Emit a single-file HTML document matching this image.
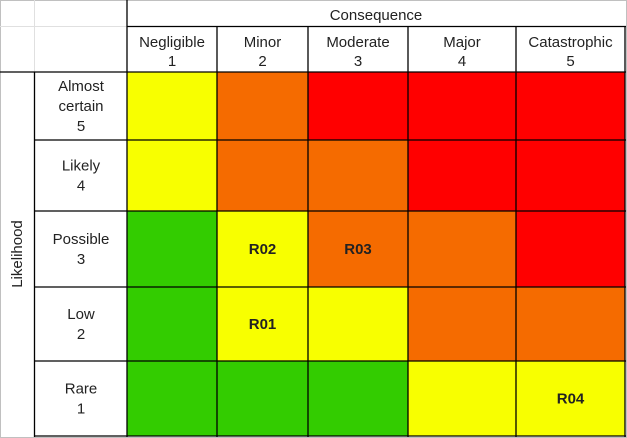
<!DOCTYPE html>
<html><head><meta charset="utf-8"><style>
html,body{margin:0;padding:0;background:#fff;}
svg{display:block;font-family:"Liberation Sans",Arial,sans-serif;}
</style></head><body>
<svg id="chart" width="627" height="438"></svg>
<script>
const consequences = ["Negligible","Minor","Moderate","Major","Catastrophic"];
const likelihoods = [["Almost","certain","5"],["Likely","4"],["Possible","3"],["Low","2"],["Rare","1"]];
// risk level per row (top=5 down to 1), per column (1..5): 0 green,1 yellow,2 orange,3 red
const levels = [
 [1,2,3,3,3],
 [1,2,2,3,3],
 [0,1,2,2,3],
 [0,1,1,2,2],
 [0,0,0,1,1]
];
const risks = ["R02","R03","R01","R04"];
const riskLikelihood = [3,3,2,1];
const riskConsequence = [2,3,2,5];

const colX = [127,217,308,408,516,625];
const rowY = [72,140,211,287,361,436];
const colors = ["#33cc00","#f8ff00","#f56b00","#ff0000"];
const NS="http://www.w3.org/2000/svg";
const svg=document.getElementById('chart');
function mk(tag,attrs,parent){const e=document.createElementNS(NS,tag);for(const k in attrs)e.setAttribute(k,attrs[k]);(parent||svg).appendChild(e);return e;}
function txt(x,y,s,opts){const t=mk('text',Object.assign({x:x,y:y,'text-anchor':'middle','font-size':15,fill:'#222'},opts||{}));t.textContent=s;return t;}

mk('rect',{x:0.5,y:0.5,width:626,height:437,fill:'none',stroke:'#c0c0c0'});
mk('line',{x1:34.5,y1:0,x2:34.5,y2:72,stroke:'#e0e0e0'});
mk('line',{x1:0,y1:26.5,x2:127,y2:26.5,stroke:'#e0e0e0'});

for(let r=0;r<5;r++){for(let c=0;c<5;c++){
 const cell=mk('rect',{x:colX[c],y:rowY[r],width:colX[c+1]-colX[c],height:rowY[r+1]-rowY[r],fill:colors[levels[r][c]]});
 
 
}}

const h=txt((127+625)/2,20,"Consequence");


consequences.forEach((n,i)=>{
 const cx=(colX[i]+colX[i+1])/2;
 const t=txt(cx,47,n);
 
 
 const t2=txt(cx,66,String(i+1));
 
 
});
likelihoods.forEach((lines,i)=>{
 const cy=(rowY[i]+rowY[i+1])/2;
 const start=cy-(lines.length-1)*10+5;
 lines.forEach((s,j)=>{
  const t=txt(81,start+j*20,s);
  
  
 });
});
const yl=txt(0,0,"Likelihood",{transform:'translate(22,254) rotate(-90)'});



const g=mk('g',{stroke:'#000','stroke-width':1.3});
mk('line',{x1:127,y1:0,x2:127,y2:437},g);
mk('line',{x1:127,y1:26.5,x2:626,y2:26.5},g);
for(let i=1;i<colX.length;i++) mk('line',{x1:colX[i],y1:26,x2:colX[i],y2:437},g);
mk('line',{x1:34.5,y1:72,x2:34.5,y2:437},g);
for(let i=0;i<rowY.length;i++) mk('line',{x1:i==0?0:34,y1:rowY[i],x2:626,y2:rowY[i]},g);

risks.forEach((r,i)=>{
 const c=riskConsequence[i]-1, row=5-riskLikelihood[i];
 const t=txt((colX[c]+colX[c+1])/2,(rowY[row]+rowY[row+1])/2+5,r,{'font-weight':'bold','font-size':15});
 
 
});
</script>
</body></html>
